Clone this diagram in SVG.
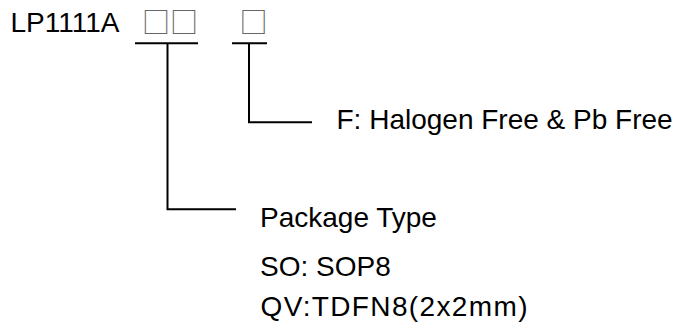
<svg xmlns="http://www.w3.org/2000/svg" width="673" height="331" viewBox="0 0 673 331">
<style>
text{font-family:"Liberation Sans",Arial,sans-serif;font-size:28px;fill:#000}
.box{font-family:"Noto Sans CJK SC","DejaVu Sans",sans-serif;font-size:28px;fill:#666}
.ln{fill:none;stroke:#000;stroke-width:2}
</style>
<rect width="673" height="331" fill="#fff"/>
<g id="part-number">
<text x="10.5" y="31.7">LP1111A</text>
<text class="box" x="142" y="33">□□</text>
<text class="box" x="239.5" y="33">□</text>
</g>
<g id="connectors">
<path class="ln" d="M135,43.3H198M167.5,43.3V209.3H236"/>
<path class="ln" d="M232,43.3H267M249,43.3V122.3H312"/>
</g>
<g id="halogen-free">
<text x="336.5" y="129.3">F: Halogen Free &amp; Pb Free</text>
</g>
<g id="package-type">
<text x="260" y="227.3">Package Type</text>
<text x="260" y="275.7">SO: SOP8</text>
<text x="260.5" y="316" textLength="267" lengthAdjust="spacing">QV:TDFN8(2x2mm)</text>
</g>
</svg>
